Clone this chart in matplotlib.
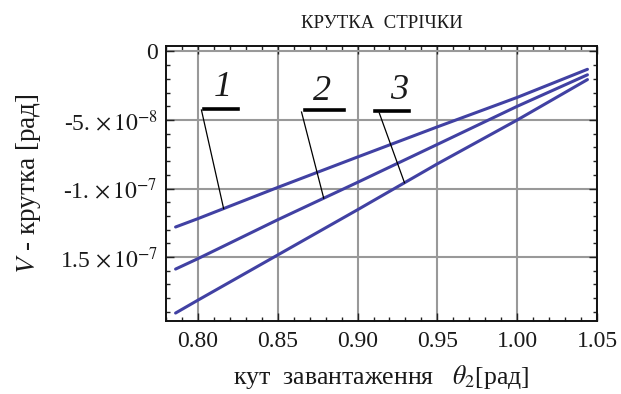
import numpy as np
import matplotlib
matplotlib.use("Agg")
import matplotlib.pyplot as plt
from matplotlib.ticker import MultipleLocator

plt.rcParams['font.family'] = ['Liberation Serif', 'DejaVu Serif']
plt.rcParams['mathtext.fontset'] = 'stix'

# кут завантаження, рад
theta = [0.786, 0.80, 0.85, 0.90, 0.95, 1.00, 1.044]
# крутка стрічки, 1e-8 рад
v1 = [-12.81, -12.20, -9.92, -7.70, -5.50, -3.35, -1.30]
v2 = [-15.88, -15.12, -12.28, -9.55, -6.78, -4.00, -1.70]
v3 = [-19.09, -18.15, -14.85, -11.55, -8.20, -5.00, -2.05]

xticks = [0.80, 0.85, 0.90, 0.95, 1.00, 1.05]
xticklabels = ["0.80", "0.85", "0.90", "0.95", "1.00", "1.05"]
yticks = [0, -5e-8, -1e-7, -1.5e-7]
yticklabels = ["0", r"-5. $\times\,10^{-8}$", r"-1. $\times\,10^{-7}$", r"1.5 $\times\,10^{-7}$"]

fig = plt.figure(figsize=(6.21, 3.94), dpi=100)
ax = fig.add_axes([0.2673, 0.1853, 0.6941, 0.6979])

clr = '#4141a3'
series = [v1, v2, v3]
for v in series:
    ax.plot(theta, np.array(v) * 1e-8, color=clr, lw=2.2, solid_capstyle='round')

# мітки кривих: (текст x, низ тексту y, риска x0, x1, y, початок виноски x, y, точка на кривій x)
labels = [
    ("1", 0.8155, -3.8, 0.8041, 0.8250, -4.20, 0.8022, -4.27, 0.8161),
    ("2", 0.8775, -4.1, 0.8668, 0.8915, -4.27, 0.8649, -4.42, 0.8788),
    ("3", 0.9263, -4.05, 0.9111, 0.9320, -4.34, 0.9136, -4.49, 0.9294),
]
for (t, tx, ty, b0, b1, by, lx, ly, px), v in zip(labels, series):
    ax.text(tx, ty * 1e-8, t, fontsize=26, fontstyle='italic', ha='center', va='bottom',
            color='#1a1a1a')
    ax.plot([b0, b1], [by * 1e-8, by * 1e-8], color='black', lw=2.6)
    py = np.interp(px, theta, v)
    ax.plot([lx, px], [ly * 1e-8, py * 1e-8], color='black', lw=0.9)

ax.set_xlim(0.78, 1.05)
ax.set_ylim(-1.967e-7, 0.4e-8)
ax.set_xticks(xticks)
ax.set_xticklabels(xticklabels)
ax.set_yticks(yticks)
ax.set_yticklabels(yticklabels)
ax.xaxis.set_minor_locator(MultipleLocator(0.01))
ax.yaxis.set_minor_locator(MultipleLocator(1e-8))
ax.tick_params(which='both', direction='in', top=True, right=True, color='#222222',
               labelsize=17, labelcolor='#1a1a1a')
ax.tick_params(which='major', length=6, width=1)
ax.tick_params(which='minor', length=3, width=1)
ax.tick_params(axis='x', pad=7)
ax.tick_params(axis='y', pad=6)
ax.grid(True, which='major', color='#999999', lw=1.5)
ax.set_axisbelow(True)
for s in ax.spines.values():
    s.set_linewidth(1.4)
    s.set_color('#111111')

ax.set_title("КРУТКА  СТРІЧКИ", fontsize=13.5, color='#1a1a1a', pad=13)
ax.set_xlabel(r"кут  завантаження   $\theta_2$[рад]", fontsize=18.5, color='#1a1a1a', labelpad=8)
ax.set_ylabel(r"$V$ - крутка [рад]", fontsize=19.5, color='#1a1a1a', labelpad=12)

fig.savefig("out.png", dpi=100)
